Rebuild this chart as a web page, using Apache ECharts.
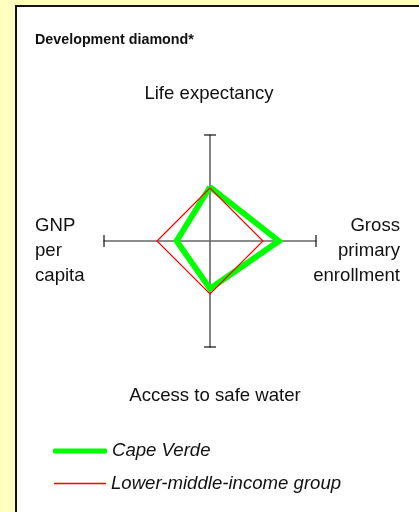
<!DOCTYPE html>
<html>
<head>
<meta charset="utf-8">
<script src="https://cdn.jsdelivr.net/npm/echarts@6/dist/echarts.min.js"></script>
<style>
html,body{margin:0;padding:0;background:#FFFFC0;}
#c{width:419px;height:512px;}
</style>
</head>
<body>
<div id="c"></div>
<script>
// Radar order (counter-clockwise from top): top, left, bottom, right
const indicators = ['Life expectancy', 'GNP\nper\ncapita', 'Access to safe water', 'Gross\nprimary\nenrollment'];
const capeVerde = [102, 63, 90, 130];
const lowerMiddleIncome = [100, 100, 100, 100];
const seriesNames = ['Cape Verde', 'Lower-middle-income group'];
const axisMax = 200;

const FONT = '"Liberation Sans", Arial, sans-serif';
const CX = 210, CY = 241, R = 106;
const FS = '18.6px ';

const chart = echarts.init(document.getElementById('c'), null, {renderer: 'canvas'});
const legendText = {fontFamily: FONT, fontSize: 18.6, fontStyle: 'italic', color: '#111', lineHeight: 20};
chart.setOption({
  animation: false,
  backgroundColor: 'transparent',
  grid: {left: CX - R, top: CY - R, width: 2 * R, height: 2 * R},
  xAxis: {
    type: 'value', min: -axisMax, max: axisMax,
    axisLine: {onZero: true, lineStyle: {color: '#666', width: 1.6}},
    axisTick: {show: false}, axisLabel: {show: false}, splitLine: {show: false}
  },
  yAxis: {
    type: 'value', min: -axisMax, max: axisMax,
    axisLine: {onZero: true, lineStyle: {color: '#666', width: 1.6}},
    axisTick: {show: false}, axisLabel: {show: false}, splitLine: {show: false}
  },
  radar: {
    center: [CX, CY], radius: R, startAngle: 90, shape: 'polygon', splitNumber: 1,
    indicator: indicators.map(n => ({name: n, min: 0, max: axisMax})),
    axisName: {show: false},
    axisLine: {show: false}, splitLine: {show: false}, splitArea: {show: false}, axisTick: {show: false}
  },
  legend: [
    {
      left: 53, top: 441, padding: 0, itemWidth: 54, itemHeight: 5, icon: 'roundRect', selectedMode: false,
      textStyle: legendText, data: [seriesNames[0]]
    },
    {
      left: 54, top: 473.5, padding: 0, itemWidth: 52, itemHeight: 1.4, icon: 'rect', selectedMode: false,
      textStyle: legendText, data: [seriesNames[1]]
    }
  ],
  graphic: [
    {type: 'rect', z: -10, silent: true, shape: {x: 16, y: 6, width: 420, height: 520},
     style: {fill: '#fff', stroke: '#111', lineWidth: 2}},
    {type: 'text', left: 35, top: 33, style: {text: 'Development diamond*', font: 'bold 14.3px ' + FONT, fill: '#111'}},
    {type: 'text', x: 209, y: 94, style: {text: indicators[0], font: FS + FONT, fill: '#111', align: 'center', verticalAlign: 'middle'}},
    {type: 'text', x: 215, y: 396, style: {text: indicators[2], font: FS + FONT, fill: '#111', align: 'center', verticalAlign: 'middle'}},
    {type: 'text', x: 35, y: 251, style: {text: indicators[1], font: FS + FONT, lineHeight: 24.7, fill: '#111', align: 'left', verticalAlign: 'middle'}},
    {type: 'text', x: 400, y: 251, style: {text: indicators[3], font: FS + FONT, lineHeight: 24.7, fill: '#111', align: 'right', verticalAlign: 'middle'}}
  ],
  series: [
    {
      name: seriesNames[0], type: 'radar', symbol: 'none', z: 3,
      itemStyle: {color: '#00FF00'},
      lineStyle: {color: '#00FF00', width: 5.8, join: 'miter'},
      data: [{value: capeVerde, name: seriesNames[0]}]
    },
    {
      name: seriesNames[1], type: 'radar', symbol: 'none', z: 4,
      itemStyle: {color: '#FF0000'},
      lineStyle: {color: '#FF0000', width: 1.2, join: 'miter', opacity: 1},
      data: [{value: lowerMiddleIncome, name: seriesNames[1]}]
    },
    {
      name: 'caps-h', type: 'scatter', symbol: 'rect', symbolSize: [1.5, 12], silent: true,
      itemStyle: {color: '#111'}, data: [[-axisMax, 0], [axisMax, 0]], z: 5
    },
    {
      name: 'caps-v', type: 'scatter', symbol: 'rect', symbolSize: [12, 1.5], silent: true,
      itemStyle: {color: '#111'}, data: [[0, -axisMax], [0, axisMax]], z: 5
    }
  ]
});
</script>
</body>
</html>
